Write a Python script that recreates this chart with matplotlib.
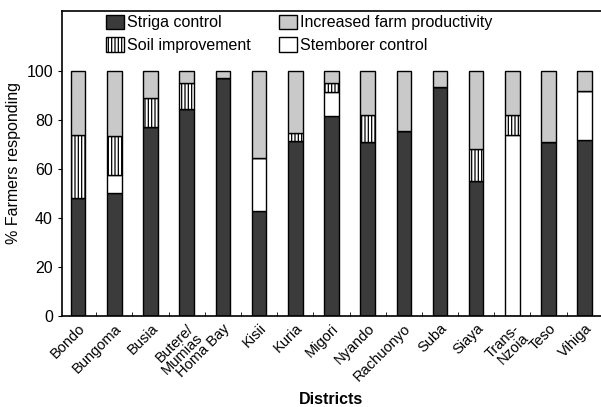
import matplotlib
matplotlib.use("Agg")
import matplotlib.pyplot as plt
from matplotlib.patches import Patch
import numpy as np

districts = ["Bondo", "Bungoma", "Busia", "Butere/\nMumias", "Homa Bay", "Kisii", "Kuria",
             "Migori", "Nyando", "Rachuonyo", "Suba", "Siaya", "Trans-\nNzoia", "Teso", "Vihiga"]
striga = [48, 50, 77, 84.5, 97, 43, 71.5, 81.5, 71, 75.5, 93.5, 55, 0, 71, 72]
stemborer = [0, 7.5, 0, 0, 0, 21.5, 0, 10, 0, 0, 0, 0, 74, 0, 20]
soil = [26, 16, 12, 10.5, 0, 0, 3, 3.5, 11, 0, 0, 13, 8, 0, 0]
productivity = [26, 26.5, 11, 5, 3, 35.5, 25.5, 5, 18, 24.5, 6.5, 32, 18, 29, 8]

plt.rcParams['font.family'] = ['Liberation Sans', 'DejaVu Sans']
plt.rcParams['hatch.linewidth'] = 0.9

fig = plt.figure(figsize=(6.01, 4.07), dpi=100)
ax = fig.add_axes([0.103, 0.224, 0.897, 0.749])

x = np.arange(len(districts))
w = 0.4
dark = '#3b3b3b'
light = '#c9c9c9'
b1 = np.array(striga)
b2 = b1 + np.array(stemborer)
b3 = b2 + np.array(soil)

ax.bar(x, striga, w, color=dark, edgecolor='black', linewidth=1)
ax.bar(x, stemborer, w, bottom=b1, color='white', edgecolor='black', linewidth=1)
ax.bar(x, soil, w, bottom=b2, color='white', edgecolor='black', linewidth=1, hatch='|||||')
ax.bar(x, productivity, w, bottom=b3, color=light, edgecolor='black', linewidth=1)

ax.set_xlim(-0.45, 14.45)
ax.set_ylim(0, 124.5)
ax.set_yticks([0, 20, 40, 60, 80, 100])
ax.tick_params(axis='y', labelsize=11.5, length=3, direction='out')
ax.set_xticks(x)
ax.set_xticklabels(districts, rotation=45, ha='right', rotation_mode='anchor', fontsize=10.5,
                   linespacing=0.9)
ax.tick_params(axis='x', length=0, pad=4)
ax.set_xticks(x[:-1] + 0.5, minor=True)
ax.tick_params(axis='x', which='minor', direction='in', length=3)
ax.spines['right'].set_visible(False)
for s in ['left', 'top', 'bottom']:
    ax.spines[s].set_linewidth(1.2)

ax.set_ylabel('% Farmers responding', fontsize=11.5)
ax.set_xlabel('Districts', fontsize=11.5, fontweight='bold', labelpad=6)

handles = [Patch(facecolor=dark, edgecolor='black', label='Striga control'),
           Patch(facecolor='white', edgecolor='black', hatch='|||||', label='Soil improvement'),
           Patch(facecolor=light, edgecolor='black', label='Increased farm productivity'),
           Patch(facecolor='white', edgecolor='black', label='Stemborer control')]
ax.legend(handles=handles, ncol=2, loc='upper left', bbox_to_anchor=(0.058, 1.03),
          frameon=False, fontsize=11.5, handlelength=1.1, handleheight=1.0,
          handletextpad=0.2, columnspacing=1.8, labelspacing=0.45, borderpad=0.3)

fig.savefig('out.png', dpi=100)
